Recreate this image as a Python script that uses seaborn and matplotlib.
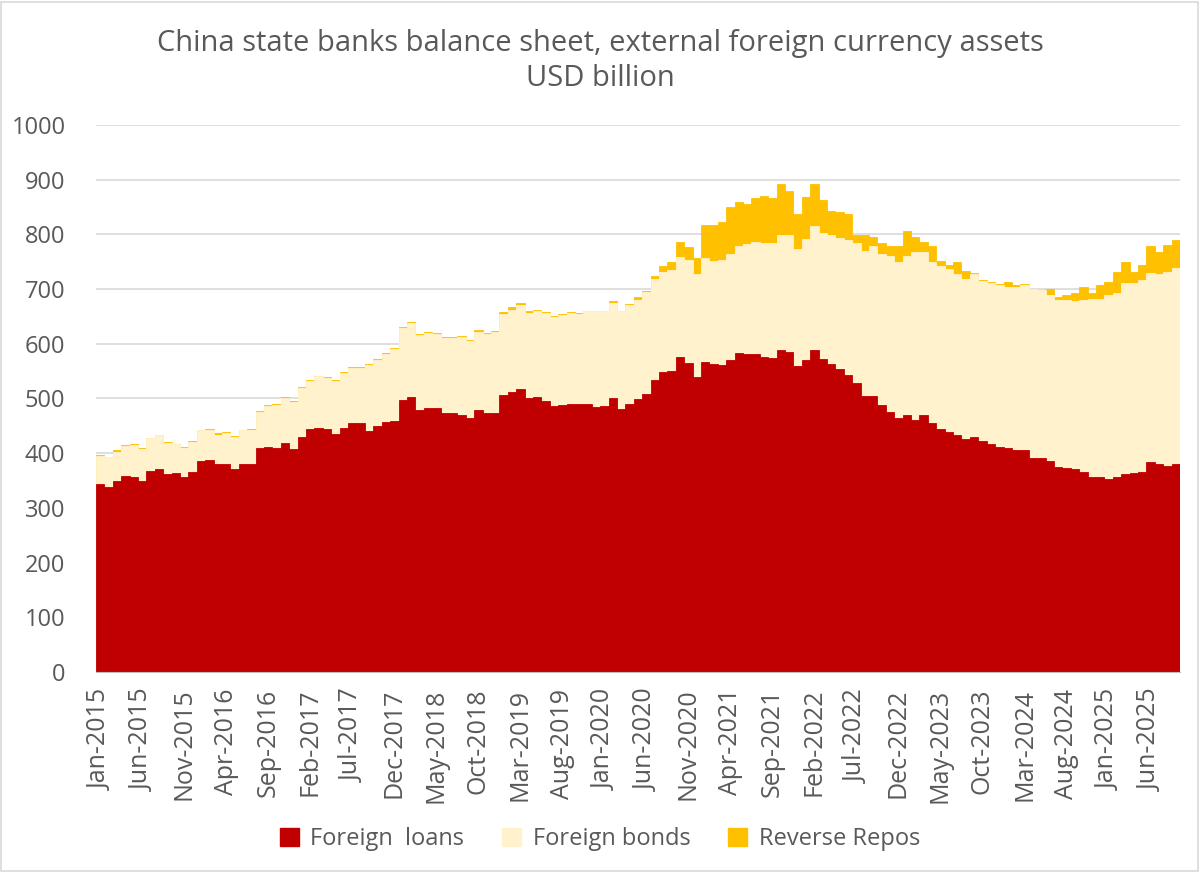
import matplotlib
matplotlib.use("Agg")
import matplotlib.pyplot as plt
import matplotlib.patches as mpatches
import pandas as pd
import seaborn as sns

months = pd.date_range("2015-01-01", periods=129, freq="MS").strftime("%b-%Y").tolist()

foreign_loans = [
    343, 339, 349, 359, 357, 349, 367, 371, 361, 364, 357, 366,
    386, 388, 380, 380, 371, 380, 380, 410, 411, 410, 419, 408,
    430, 444, 446, 444, 435, 446, 455, 455, 441, 450, 457, 459,
    497, 503, 479, 483, 483, 473, 473, 470, 464, 479, 473, 473,
    507, 511, 517, 500, 503, 495, 486, 488, 490, 490, 490, 484,
    486, 501, 481, 490, 499, 509, 534, 548, 550, 575, 565, 540,
    566, 563, 561, 571, 583, 582, 581, 576, 574, 589, 585, 559,
    571, 589, 573, 563, 554, 542, 528, 505, 505, 488, 475, 464,
    470, 460, 470, 455, 444, 439, 433, 425, 430, 422, 417, 412,
    409, 406, 406, 391, 391, 386, 375, 372, 371, 365, 356, 356,
    352, 356, 361, 363, 366, 383, 380, 377, 380,
]

# top of the bonds segment (loans + bonds)
loans_plus_bonds = [
    395, 393, 403, 413, 415, 407, 428, 434, 418, 417, 409, 421,
    442, 443, 434, 436, 429, 443, 443, 475, 486, 488, 501, 493,
    519, 532, 541, 537, 532, 546, 555, 555, 561, 570, 581, 590,
    628, 638, 616, 620, 618, 611, 611, 612, 605, 622, 617, 621,
    654, 661, 670, 657, 659, 656, 649, 652, 656, 654, 660, 660,
    659, 675, 659, 670, 680, 694, 718, 732, 734, 759, 754, 727,
    757, 752, 754, 765, 779, 782, 786, 784, 785, 798, 798, 774,
    792, 815, 803, 798, 793, 789, 785, 769, 779, 764, 761, 750,
    761, 767, 767, 750, 743, 736, 728, 719, 728, 715, 711, 707,
    704, 703, 707, 700, 699, 690, 680, 680, 679, 680, 682, 682,
    689, 693, 711, 711, 717, 729, 727, 732, 739,
]

# total incl. reverse repos
total_assets = [
    397, 393, 405, 415, 417, 409, 428, 434, 420, 417, 411, 423,
    442, 445, 436, 438, 431, 443, 445, 477, 488, 490, 503, 495,
    521, 534, 541, 539, 534, 548, 557, 557, 563, 572, 583, 592,
    631, 640, 618, 622, 620, 613, 613, 614, 607, 625, 619, 623,
    658, 667, 675, 659, 662, 658, 651, 655, 658, 656, 660, 660,
    660, 679, 660, 673, 686, 696, 724, 742, 750, 786, 777, 757,
    818, 818, 823, 850, 859, 856, 867, 871, 867, 892, 880, 838,
    869, 892, 862, 843, 840, 838, 799, 799, 795, 784, 778, 778,
    806, 796, 786, 778, 752, 744, 750, 733, 730, 717, 713, 709,
    712, 707, 709, 700, 699, 700, 686, 689, 693, 704, 693, 707,
    712, 732, 750, 732, 744, 778, 767, 780, 790,
]

series_names = ["Foreign  loans", "Foreign bonds", "Reverse Repos"]
colors = ["#C00000", "#FFF2CC", "#FFC000"]

df = pd.DataFrame({
    "month": months,
    "loans": foreign_loans,
    "loans_bonds": loans_plus_bonds,
    "total": total_assets,
})

sns.set_style("white")
plt.rcParams["font.family"] = ["Open Sans", "DejaVu Sans"]
grey = "#595959"

fig = plt.figure(figsize=(12, 8.72), dpi=100)
ax = fig.add_axes([0.08, 0.2294, 0.9033, 0.6273])

# stacked bars drawn as overlapping cumulative totals
for col, c in zip(["total", "loans_bonds", "loans"], colors[::-1]):
    sns.barplot(data=df, x="month", y=col, color=c, width=1.0,
                saturation=1, linewidth=0.6, edgecolor=c, ax=ax, zorder=2)

ax.set_ylim(0, 1000)
ax.set_yticks(range(0, 1001, 100))
ax.set_xlim(-0.5, len(months) - 0.5)
ax.set_xticks(range(0, len(months), 5))
ax.set_xticklabels(months[::5], rotation=90)
ax.tick_params(axis="both", colors=grey, labelsize=17, length=0)
ax.tick_params(axis="x", labelsize=18, pad=12)
ax.tick_params(axis="y", pad=22)
ax.set_xlabel("")
ax.set_ylabel("")
ax.yaxis.grid(True, color="#D9D9D9", linewidth=1.2, zorder=0)
ax.set_axisbelow(True)
sns.despine(ax=ax, left=True)
ax.spines["bottom"].set_color("#BFBFBF")
ax.spines["bottom"].set_zorder(5)

fig.suptitle("China state banks balance sheet, external foreign currency assets\nUSD billion",
             y=0.967, fontsize=21, color=grey, linespacing=1.3)

handles = [mpatches.Patch(color=c, label=n) for n, c in zip(series_names, colors)]
fig.legend(handles=handles, loc="lower center", bbox_to_anchor=(0.5, 0.0), ncol=3,
           frameon=False, fontsize=17, handlelength=0.8, handleheight=0.8,
           columnspacing=1.6, handletextpad=0.5, labelcolor=grey)

fig.patches.append(mpatches.Rectangle((0.001, 0.001), 0.997, 0.997, transform=fig.transFigure,
                                      fill=False, edgecolor="#D9D9D9", linewidth=1.2))

fig.savefig("out.png", dpi=100)
